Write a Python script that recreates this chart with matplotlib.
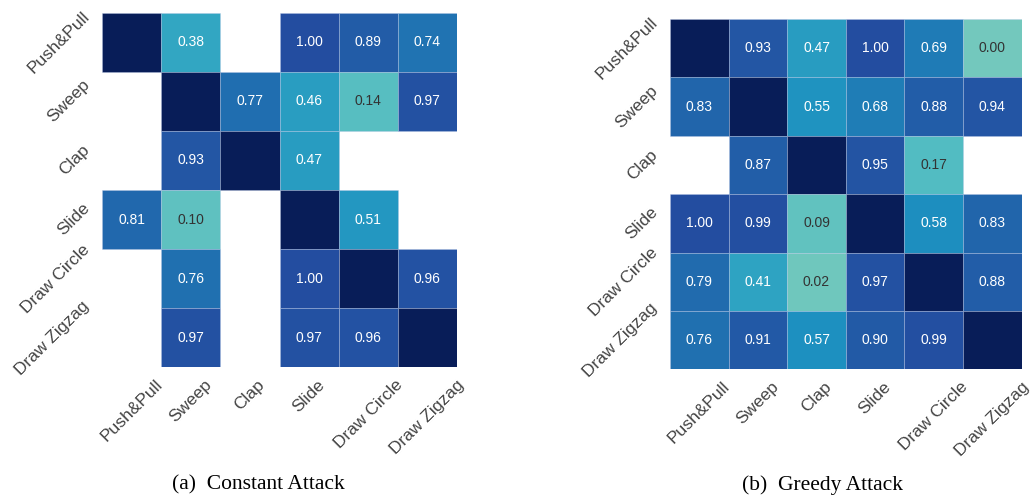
import numpy as np
import matplotlib
matplotlib.use('Agg')
import matplotlib.pyplot as plt
from matplotlib.patches import Rectangle
from matplotlib import rcParams
rcParams['font.family'] = 'sans-serif'
rcParams['font.sans-serif'] = ['Liberation Sans', 'DejaVu Sans']

nan = np.nan

gestures = ['Push&Pull', 'Sweep', 'Clap', 'Slide', 'Draw Circle', 'Draw Zigzag']

# attack success rate, row = source gesture, column = target gesture
# diagonal (same gesture) left as nan, missing pairs as nan too
constant_attack = [
    [nan, 0.38, nan, 1.00, 0.89, 0.74],
    [nan, nan, 0.77, 0.46, 0.14, 0.97],
    [nan, 0.93, nan, 0.47, nan, nan],
    [0.81, 0.10, nan, nan, 0.51, nan],
    [nan, 0.76, nan, 1.00, nan, 0.96],
    [nan, 0.97, nan, 0.97, 0.96, nan],
]

greedy_attack = [
    [nan, 0.93, 0.47, 1.00, 0.69, 0.00],
    [0.83, nan, 0.55, 0.68, 0.88, 0.94],
    [nan, 0.87, nan, 0.95, 0.17, nan],
    [1.00, 0.99, 0.09, nan, 0.58, 0.83],
    [0.79, 0.41, 0.02, 0.97, nan, 0.88],
    [0.76, 0.91, 0.57, 0.90, 0.99, nan],
]

captions = ['(a)  Constant Attack', '(b)  Greedy Attack']

VMIN, VMAX = -1.0, 1.5
cmap = plt.get_cmap('YlGnBu')


def text_color(rgba):
    # same rule seaborn uses to switch annotation colour
    rgb = np.array(rgba[:3])
    lin = np.where(rgb <= 0.03928, rgb / 12.92, ((rgb + 0.055) / 1.055) ** 2.4)
    lum = 0.2126 * lin[0] + 0.7152 * lin[1] + 0.0722 * lin[2]
    return '#333333' if lum > 0.408 else 'white'


def draw_heatmap(ax, values, labels):
    vals = np.array(values, dtype=float)
    n = len(labels)
    grid = vals.copy()
    np.fill_diagonal(grid, VMAX)  # self pairs drawn in the darkest shade
    norm = plt.Normalize(VMIN, VMAX)
    for i in range(n):
        for j in range(n):
            if np.isnan(grid[i, j]):
                continue
            ax.add_patch(Rectangle((j, i), 1, 1, facecolor=cmap(norm(grid[i, j])),
                                   edgecolor=(0.72, 0.78, 0.9, 0.5), linewidth=0.5))
            v = vals[i, j]
            if np.isnan(v):
                continue
            ax.text(j + 0.5, i + 0.5, f'{v:.2f}', ha='center', va='center',
                    fontsize=10, color=text_color(cmap(norm(v))))
    ax.set_xlim(0, n)
    ax.set_ylim(n, 0)
    ax.set_xticks(np.arange(n) + 0.5)
    ax.set_yticks(np.arange(n) + 0.5)
    ax.set_xticklabels(labels, rotation=45, ha='center', fontsize=12.5, color='#444444')
    ax.set_yticklabels(labels, rotation=45, ha='right', va='center', fontsize=12.5, color='#444444')
    ax.tick_params(length=0, pad=7)
    for s in ax.spines.values():
        s.set_visible(False)


fig = plt.figure(figsize=(10.31, 4.96), dpi=100)
ax1 = fig.add_axes([102 / 1031, 1 - 367.3 / 496, 355 / 1031, 354.6 / 496])
ax2 = fig.add_axes([670 / 1031, 1 - 369.3 / 496, 351.7 / 1031, 350.3 / 496])

draw_heatmap(ax1, constant_attack, gestures)
draw_heatmap(ax2, greedy_attack, gestures)

fig.text(258 / 1031, 1 - 485 / 496, captions[0], ha='center', va='center',
         fontsize=15.5, family='Liberation Serif', color='black')
fig.text(822 / 1031, 1 - 485 / 496, captions[1], ha='center', va='center',
         fontsize=15.5, family='Liberation Serif', color='black')

fig.savefig('out.png', dpi=100)
